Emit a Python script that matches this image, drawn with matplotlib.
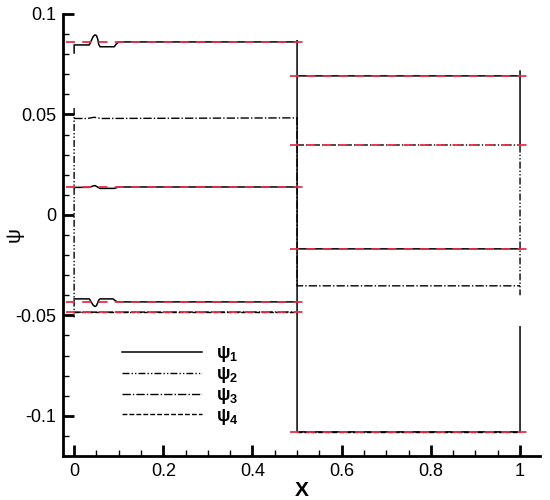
import matplotlib
matplotlib.use("Agg")
import matplotlib.pyplot as plt
import numpy as np

plt.rcParams["font.family"] = ["Liberation Sans", "DejaVu Sans"]
plt.rcParams["mathtext.fontset"] = "custom"
plt.rcParams["mathtext.rm"] = "Liberation Sans:bold"
plt.rcParams["mathtext.it"] = "Liberation Sans:bold"
plt.rcParams["mathtext.bf"] = "Liberation Sans:bold"

nan = np.nan

# psi_1 (solid) - several pieces separated by nan
psi1_x = [0, 0, 0.034, 0.039, 0.043, 0.047, 0.050, 0.053, 0.055, 0.058, 0.090, 0.095, 0.100, 0.5, 0.5, 0.5, 1.0, 1.0, nan,
          0, 0.034, 0.041, 0.047, 0.053, 0.058, 0.090, 0.100, 0.5, nan,
          0, 0.034, 0.039, 0.043, 0.047, 0.050, 0.053, 0.055, 0.058, 0.087, 0.093, 0.098, 0.5, nan,
          0.5, 1.0, nan, 1.0, 1.0, nan,
          0.5, 1.0]
psi1_y = [0.0806, 0.0846, 0.0846, 0.0870, 0.0889, 0.0896, 0.0893, 0.0875, 0.0850, 0.0837, 0.0837, 0.0852, 0.0861, 0.0861, 0.0866, -0.108, -0.108, -0.0557, nan,
          0.0137, 0.0137, 0.0143, 0.0146, 0.0138, 0.0132, 0.0132, 0.0139, 0.0139, nan,
          -0.0418, -0.0418, -0.0436, -0.0450, -0.0456, -0.0452, -0.0437, -0.0425, -0.0418, -0.0418, -0.0428, -0.0433, -0.0433, nan,
          0.0692, 0.0692, nan, 0.0716, 0.0348, nan,
          -0.0169, -0.0169]

# psi_2 (dash-dot-dot)
psi2_x = [0, 0, nan, 0, 0.5, nan, 0.5, 1.0, 1.0]
psi2_y = [0.0532, -0.051, nan, -0.0484, -0.0483, nan, 0.0348, 0.0348, -0.040]

# psi_3 (dash-dot)
psi3_x = [0, 0.03, 0.045, 0.06, 0.5, 0.5, 1.0]
psi3_y = [0.0480, 0.0480, 0.0486, 0.0480, 0.0483, -0.0353, -0.0353]

# psi_4 (dashed)
psi4_x = [0, 0.5, nan, 0.5, 1.0]
psi4_y = [-0.0483, -0.0483, nan, -0.108, -0.108]

# reference levels (red dashed)
ref_left = [0.0861, 0.0139, -0.0433, -0.0483]
ref_right = [0.0692, 0.0348, -0.0169, -0.108]
ref_left_span = [-0.018, 0.523]
ref_right_span = [0.485, 1.03]

fig = plt.figure(figsize=(5.5, 5.0), dpi=100)
ax = fig.add_axes([0.1145, 0.088, 0.8675, 0.884])

l1, = ax.plot(psi1_x, psi1_y, color="black", lw=1.1, ls="-", label=r"$\psi_1$")
l2, = ax.plot(psi2_x, psi2_y, color="black", lw=1.0, ls=(0, (5, 1.5, 1, 1.5, 1, 1.5)), label=r"$\psi_2$")
l3, = ax.plot(psi3_x, psi3_y, color="black", lw=1.0, ls=(0, (6, 1.5, 1, 1.5)), label=r"$\psi_3$")
l4, = ax.plot(psi4_x, psi4_y, color="black", lw=1.0, ls=(0, (3.5, 1.5)), label=r"$\psi_4$")

for v in ref_left:
    ax.plot(ref_left_span, [v, v], color="#e8304a", lw=1.3, ls=(0, (5, 4)))
for v in ref_right:
    ax.plot(ref_right_span, [v, v], color="#e8304a", lw=1.3, ls=(0, (5, 4)))

ax.set_xlim(-0.025, 1.045)
ax.set_ylim(-0.12, 0.1)

ax.spines["top"].set_visible(False)
ax.spines["right"].set_visible(False)
ax.spines["left"].set_linewidth(2)
ax.spines["bottom"].set_linewidth(2)

xt = [0, 0.2, 0.4, 0.6, 0.8, 1.0]
xt_labels = ["0", "0.2", "0.4", "0.6", "0.8", "1"]
yt = [0.1, 0.05, 0, -0.05, -0.1]
yt_labels = ["0.1", "0.05", "0", "-0.05", "-0.1"]
ax.set_xticks(xt)
ax.set_xticklabels(xt_labels)
ax.set_yticks(yt)
ax.set_yticklabels(yt_labels)
ax.set_xticks(np.arange(0, 1.05, 0.05), minor=True)
ax.set_yticks(np.arange(-0.12, 0.1001, 0.01), minor=True)
ax.tick_params(which="major", direction="in", length=8, width=2, labelsize=13, pad=5)
ax.tick_params(which="minor", direction="in", length=4, width=1)

ax.set_xlabel("X", fontsize=15, fontweight="bold", labelpad=1)
ax.set_ylabel("ψ", fontsize=15)
ax.yaxis.set_label_coords(-0.082, 0.5)

ax.legend(handles=[l1, l2, l3, l4], loc="upper left", bbox_to_anchor=(0.09, 0.29),
          frameon=False, fontsize=13, handlelength=4.4, labelspacing=0.05,
          handletextpad=0.8)

fig.savefig("out.png", dpi=100)
